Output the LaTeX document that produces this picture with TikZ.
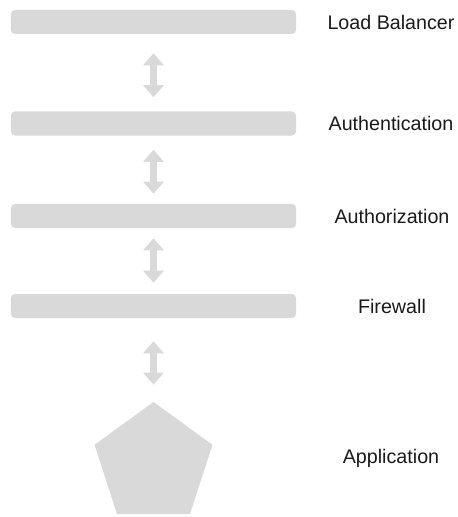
\documentclass[tikz,border=0pt]{standalone}
\usepackage{fontspec}
\setmainfont{Liberation Sans}
\usepackage{xcolor}
\definecolor{pale-grey}{HTML}{D9D9D9}
\definecolor{ink}{HTML}{1A1A1A}
\usetikzlibrary{shapes.geometric}
\usetikzlibrary{arrows.meta}
\usetikzlibrary{calc}
\tikzset{layer/.style = {fill=pale-grey, rounded corners=0.1cm, minimum width=7.125cm, minimum height=0.6cm, inner sep=0}}
\tikzset{app/.style = {fill=pale-grey, regular polygon, regular polygon sides=5, minimum size=3.1cm, inner sep=0}}
\tikzset{tag/.style = {text=ink, font=\fontsize{14}{16}\selectfont, anchor=center}}
\tikzset{arr/.style = {draw=pale-grey, line width=0.175cm, {Triangle[width=0.5cm,length=0.3cm]}-{Triangle[width=0.5cm,length=0.3cm]}}}

\begin{document}
\begin{tikzpicture}[x=0.025cm, y=-0.025cm]
\useasboundingbox (0,0) rectangle (458,517);

\node[layer] (lb) at (153.5,22) {};
\node[layer] (authn) at (153.5,123.5) {};
\node[layer] (authz) at (153.5,216) {};
\node[layer] (fw) at (153.5,306) {};
% pentagon sits below the last arrow
\node[app] (appl) at (153.5,464) {};

\node[tag] (lb-tag) at (391,22) {Load Balancer};
\node[tag] (authn-tag) at (391,123.5) {Authentication};
\node[tag] (authz-tag) at (392,216) {Authorization};
\node[tag] (fw-tag) at (392,306) {Firewall};
\node[tag] (appl-tag) at (391,458) {Application};

\draw[arr] ($(lb.south)+(0,19)$) -- ($(authn.north)+(0,-14)$);
\draw[arr] ($(authn.south)+(0,14)$) -- ($(authz.north)+(0,-10)$);
\draw[arr] ($(authz.south)+(0,10)$) -- ($(fw.north)+(0,-11)$);
\draw[arr] ($(fw.south)+(0,23)$) -- ($(appl.north)+(0,-17)$);

\end{tikzpicture}
\end{document}
